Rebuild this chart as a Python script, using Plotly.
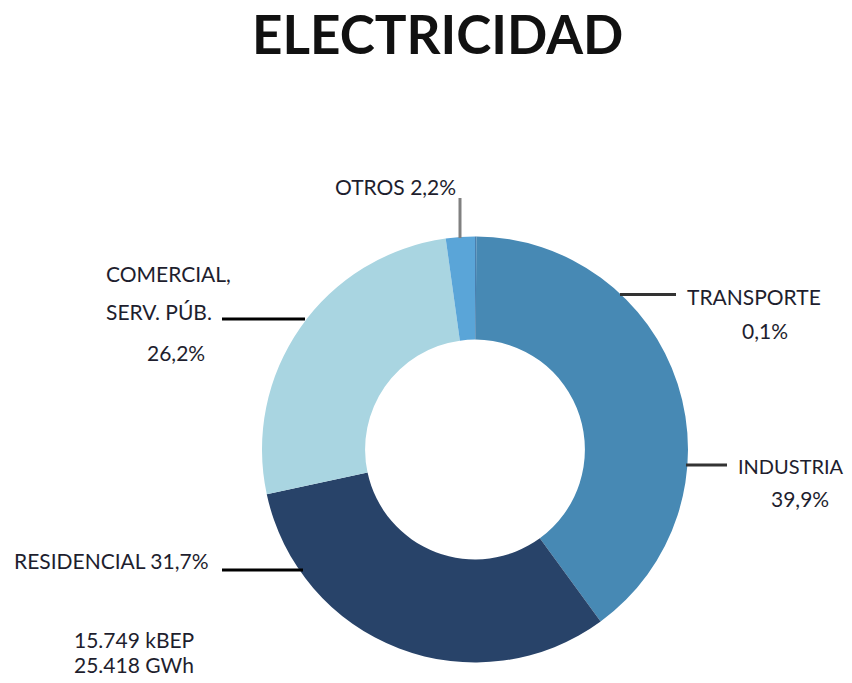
import plotly.graph_objects as go

# Page body has an 8px margin; figure coords = screen coords - 8
OFF = 8
W, H = 852 - 2 * OFF, 683 - 2 * OFF

sectors = ["TRANSPORTE", "INDUSTRIA", "RESIDENCIAL", "COMERCIAL, SERV. PÚB.", "OTROS"]
shares = [0.1, 39.9, 31.7, 26.2, 2.2]
colors = ["#4a7fae", "#4789b4", "#284369", "#a9d5e1", "#5aa5d8"]

title_text = "ELECTRICIDAD"
total_lines = ["15.749 kBEP", "25.418 GWh"]


def px(x):
    return (x - OFF) / W


def py(y):
    return 1 - (y - OFF) / H


cx, cy, r = 475, 449.5, 213

fig = go.Figure(go.Pie(
    labels=sectors,
    values=shares,
    hole=0.516,
    sort=False,
    direction="clockwise",
    rotation=0,
    marker=dict(colors=colors, line=dict(width=0)),
    textinfo="none",
    hoverinfo="label+percent",
    showlegend=False,
    domain=dict(x=[px(cx - r), px(cx + r)], y=[py(cy + r), py(cy - r)]),
))

font = "Lato"
tc = "#1e1e2e"
fs = 21


def ann(text, x, y, anchor="center", size=fs):
    return dict(text=text, x=px(x), y=py(y), xref="paper", yref="paper",
                xanchor=anchor, yanchor="middle", showarrow=False,
                font=dict(family=font, size=size, color=tc))


def fmt(v):
    return f"{v:.1f}".replace(".", ",") + "%"


annotations = [
    dict(text="<b>" + title_text + "</b>", x=px(437), y=py(33), xref="paper", yref="paper",
         xanchor="center", yanchor="middle", showarrow=False,
         font=dict(family=font, size=53, color="#111111")),
    ann(f"OTROS {fmt(shares[4])}", 395, 187),
    ann("TRANSPORTE", 754, 297),
    ann(fmt(shares[0]), 765, 330),
    ann("INDUSTRIA", 846, 466, "right", 20),
    ann(fmt(shares[1]), 800, 498),
    ann("COMERCIAL,", 104, 273, "left"),
    ann("SERV. PÚB.", 104, 312, "left"),
    ann(fmt(shares[3]), 176, 352),
    ann(f"RESIDENCIAL {fmt(shares[2])}", 12, 560, "left"),
    ann(total_lines[0], 72, 639, "left"),
    ann(total_lines[1], 72, 664, "left"),
]


def hline(x0, x1, y, color="#222222"):
    return dict(type="line", xref="paper", yref="paper", x0=px(x0), x1=px(x1),
                y0=py(y), y1=py(y), line=dict(color=color, width=3))


shapes = [
    dict(type="line", xref="paper", yref="paper", x0=px(460), x1=px(460),
         y0=py(198), y1=py(238), line=dict(color="#808080", width=3)),
    hline(620, 676, 294.5, "#333333"),
    hline(686, 727, 465, "#333333"),
    hline(222, 305, 319, "#000000"),
    hline(222, 303, 570, "#000000"),
]

fig.update_layout(
    width=W, height=H,
    margin=dict(l=0, r=0, t=0, b=0),
    paper_bgcolor="white", plot_bgcolor="white",
    annotations=annotations,
    shapes=shapes,
)

fig.write_html("out.html")
